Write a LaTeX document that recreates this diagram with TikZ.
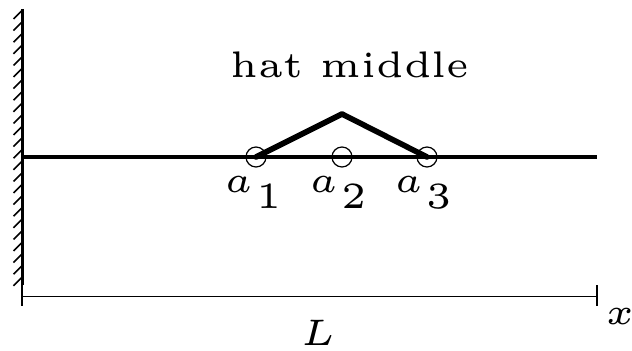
\documentclass[tikz,border=0pt]{standalone}
\usetikzlibrary{calc}
\newcommand{\sublbl}[1]{$a$\kern0.4pt\raisebox{-2.15pt}{$#1$}}
\begin{document}
\begin{tikzpicture}[x=0.5pt,y=-0.5pt,
  lbl/.style={font=\fontsize{5}{6}\selectfont, scale=3.7, inner sep=0pt},
  beam/.style={line width=1.8pt},
  hatline/.style={line width=2.8pt, line cap=round, line join=round},
  wallline/.style={line width=1.7pt},
  hatch/.style={line width=0.8pt},
  dimline/.style={line width=0.7pt},
  knot/.style={circle, draw, line width=0.6pt, minimum size=10pt, inner sep=0pt}]
\useasboundingbox (0,0) rectangle (632,351);
% wall
\coordinate (wt) at (22.5,9);
\coordinate (wb) at (22.5,285);
\draw[wallline] (wt) -- (wb);
\foreach \k in {0,...,23} {
  \draw[hatch] ($(wt)+(0,1+\k*11.6)$) -- ++(-9,9);
}
% beam
\coordinate (be) at (597,157);
\draw[beam] (22.5,157) coordinate (bs) -- (be);
% knots
\node[knot] (k1) at (256,157) {};
\node[knot] (k2) at (342,157) {};
\node[knot] (k3) at (427,157) {};
% hat
\coordinate (peak) at (342,114);
\draw[hatline] (k1.center) -- (peak) -- (k3.center);
% labels
\node[lbl, anchor=base west] (l1) at (223,193) {\sublbl{1}};
\node[lbl, anchor=base west] (l2) at (308,193) {\sublbl{2}};
\node[lbl, anchor=base west] (l3) at (393,193) {\sublbl{3}};
\node[lbl, anchor=base] (title) at (350,78) {hat middle};
% dimension
\coordinate (d1) at (22,296.5);
\coordinate (d2) at (597,296.5);
\draw[dimline] (d1) -- (d2);
\draw[dimline] ($(d1)+(0,-12)$) -- ($(d1)+(0,10)$);
\draw[dimline] ($(d2)+(0,-11)$) -- ($(d2)+(0,10)$);
\node[lbl, anchor=base] (L) at (318,346) {$L$};
\node[lbl, anchor=base] (xl) at (620,325) {$x$};
\end{tikzpicture}
\end{document}
